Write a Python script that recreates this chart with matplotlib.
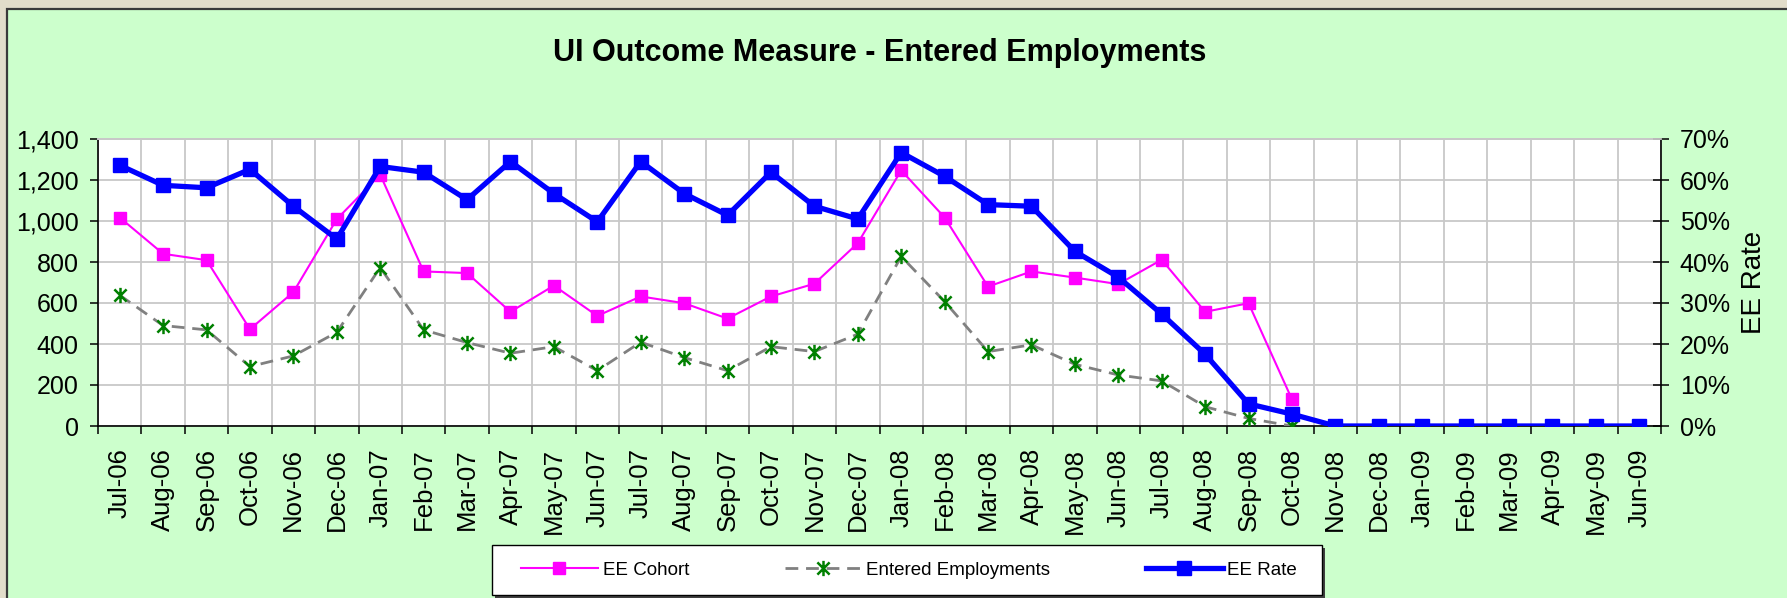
import numpy as np
import matplotlib
matplotlib.use("Agg")
import matplotlib.pyplot as plt
from matplotlib.patches import Rectangle
from matplotlib.path import Path
from matplotlib.ticker import FuncFormatter, PercentFormatter
from matplotlib import font_manager

# ---------------- data ----------------
months = ['Jul-06', 'Aug-06', 'Sep-06', 'Oct-06', 'Nov-06', 'Dec-06',
          'Jan-07', 'Feb-07', 'Mar-07', 'Apr-07', 'May-07', 'Jun-07',
          'Jul-07', 'Aug-07', 'Sep-07', 'Oct-07', 'Nov-07', 'Dec-07',
          'Jan-08', 'Feb-08', 'Mar-08', 'Apr-08', 'May-08', 'Jun-08',
          'Jul-08', 'Aug-08', 'Sep-08', 'Oct-08', 'Nov-08', 'Dec-08',
          'Jan-09', 'Feb-09', 'Mar-09', 'Apr-09', 'May-09', 'Jun-09']

ee_cohort = [1017, 840, 809, 472, 653, 1009, 1226, 754, 746, 557, 685, 537,
             632, 599, 524, 632, 694, 892, 1247, 1017, 680, 754, 724, 692,
             811, 557, 599, 130,
             np.nan, np.nan, np.nan, np.nan, np.nan, np.nan, np.nan, np.nan]

entered_employments = [638, 490, 469, 290, 342, 457, 773, 469, 407, 355, 387, 270,
                       409, 334, 270, 387, 363, 448, 827, 607, 363, 396, 301, 249,
                       220, 94, 37, 0,
                       np.nan, np.nan, np.nan, np.nan, np.nan, np.nan, np.nan, np.nan]

ee_rate_pct = [63.6, 58.7, 58.1, 62.6, 53.6, 45.6, 63.3, 61.9, 55.2, 64.5, 56.7, 49.8,
               64.5, 56.7, 51.4, 61.9, 53.6, 50.5, 66.7, 60.9, 54.0, 53.6, 42.6, 36.3,
               27.3, 17.5, 5.4, 2.9, 0, 0, 0, 0, 0, 0, 0, 0]

left_ticks = [0, 200, 400, 600, 800, 1000, 1200, 1400]
right_ticks = [0, 10, 20, 30, 40, 50, 60, 70]

# ---------------- fonts ----------------
names = {f.name for f in font_manager.fontManager.ttflist}
base_font = 'Liberation Sans' if 'Liberation Sans' in names else 'DejaVu Sans'
narrow = 'Liberation Sans Narrow' in names
narrow_font = 'Liberation Sans Narrow' if narrow else base_font
plt.rcParams['font.family'] = [base_font, 'DejaVu Sans']

W, H = 1787, 598
fig = plt.figure(figsize=(W / 100, H / 100), dpi=100)
fig.patch.set_facecolor('#E2DDCA')

# green chart area with dark border on left/top
fig.patches.append(Rectangle((6.5 / W, -0.05), 1.1, 1 - 8.5 / H + 0.05,
                             transform=fig.transFigure, facecolor='#CCFFCC',
                             edgecolor='#3A3A3A', linewidth=1.6, zorder=-5))

left, right = 98 / W, 1661 / W
bottom, top = 1 - 426 / H, 1 - 139 / H
ax = fig.add_axes([left, bottom, right - left, top - bottom])
ax.set_facecolor('white')
ax2 = ax.twinx()
ax2.patch.set_visible(False)

x = np.arange(len(months))
grid_c = '#C8C8C8'

# left series
ax.plot(x, ee_cohort, color='#FF00FF', lw=1.5, marker='s', ms=8.6,
        mec='#FF00FF', mfc='#FF00FF', label='EE Cohort', zorder=3)

star = Path([(0, -1), (0, 1), (-0.8, -0.8), (0.8, 0.8), (-0.8, 0.8), (0.8, -0.8)],
            [Path.MOVETO, Path.LINETO] * 3)
ax.plot(x, entered_employments, color='#808080', lw=2.0, dashes=(4.6, 2.8),
        marker=star, ms=11, mec='#008000', mew=1.8, label='Entered Employments', zorder=3)

# right series
ax2.plot(x, np.array(ee_rate_pct) / 100.0, color='#0000FF', lw=3.8, marker='s', ms=10,
         mec='#0000FF', mfc='#0000FF', label='EE Rate', zorder=4)

# axes limits / ticks
ax.set_xlim(-0.5, len(months) - 0.5)
ax.set_ylim(0, 1400)
ax2.set_ylim(0, 0.70)

ax.set_xticks(x)
ax.set_xticklabels(months, rotation=90, fontsize=18.5)
ax.set_xticks(np.arange(-0.5, len(months), 1), minor=True)
ax.tick_params(axis='x', which='major', length=0, pad=16)
ax.tick_params(axis='x', which='minor', length=6, width=1.1, direction='out', color='black')

ax.set_yticks(left_ticks)
ax.yaxis.set_major_formatter(FuncFormatter(lambda v, p: f'{int(v):,}'))
ax.tick_params(axis='y', length=6, width=1.1, direction='out', pad=8, labelsize=18)

ax2.set_yticks(np.array(right_ticks) / 100.0)
ax2.yaxis.set_major_formatter(PercentFormatter(1.0, decimals=0))
ax2.tick_params(axis='y', length=11, width=1.1, direction='inout', pad=8, labelsize=18)
ax2.set_ylabel('EE Rate', fontsize=20, labelpad=8)

# grid
ax.set_axisbelow(True)
ax.grid(axis='y', which='major', color=grid_c, lw=1.3)
ax.grid(axis='x', which='minor', color=grid_c, lw=1.3)
ax.grid(axis='x', which='major', visible=False)

for a in (ax, ax2):
    a.spines['top'].set_color(grid_c)
    a.spines['top'].set_linewidth(1.3)
ax.spines['right'].set_visible(False)
ax2.spines['left'].set_visible(False)
ax2.spines['bottom'].set_visible(False)
for s in ('left', 'bottom'):
    ax.spines[s].set_color('black')
    ax.spines[s].set_linewidth(1.2)
ax2.spines['right'].set_color('black')
ax2.spines['right'].set_linewidth(1.2)

# title
fig.text((left + right) / 2, 1 - 53 / H, 'UI Outcome Measure - Entered Employments',
         ha='center', va='center', fontsize=25 if narrow else 22, fontweight='bold',
         family=[narrow_font, 'DejaVu Sans'])

# legend box with shadow
lx0, lx1, ly0, ly1 = 492, 1322, 545, 595
fig.patches.append(Rectangle(((lx0 + 3) / W, 1 - (ly1 + 3) / H), (lx1 - lx0) / W, (ly1 - ly0) / H,
                             transform=fig.transFigure, facecolor='#404040',
                             edgecolor='none', zorder=1))
fig.patches.append(Rectangle((lx0 / W, 1 - ly1 / H), (lx1 - lx0) / W, (ly1 - ly0) / H,
                             transform=fig.transFigure, facecolor='white',
                             edgecolor='black', linewidth=1.0, zorder=2))
h1, l1 = ax.get_legend_handles_labels()
h2, l2 = ax2.get_legend_handles_labels()
leg = fig.legend(h1 + h2, l1 + l2, loc='center',
                 bbox_to_anchor=(((lx0 + lx1) / 2 + 2) / W, 1 - ((ly0 + ly1) / 2) / H),
                 ncol=3, frameon=False, handlelength=4.1, handletextpad=0.25,
                 columnspacing=5.1, prop={'family': [narrow_font], 'size': 15 if narrow else 13.5})
leg.set_zorder(5)

fig.savefig('out.png', dpi=100, facecolor=fig.get_facecolor())
